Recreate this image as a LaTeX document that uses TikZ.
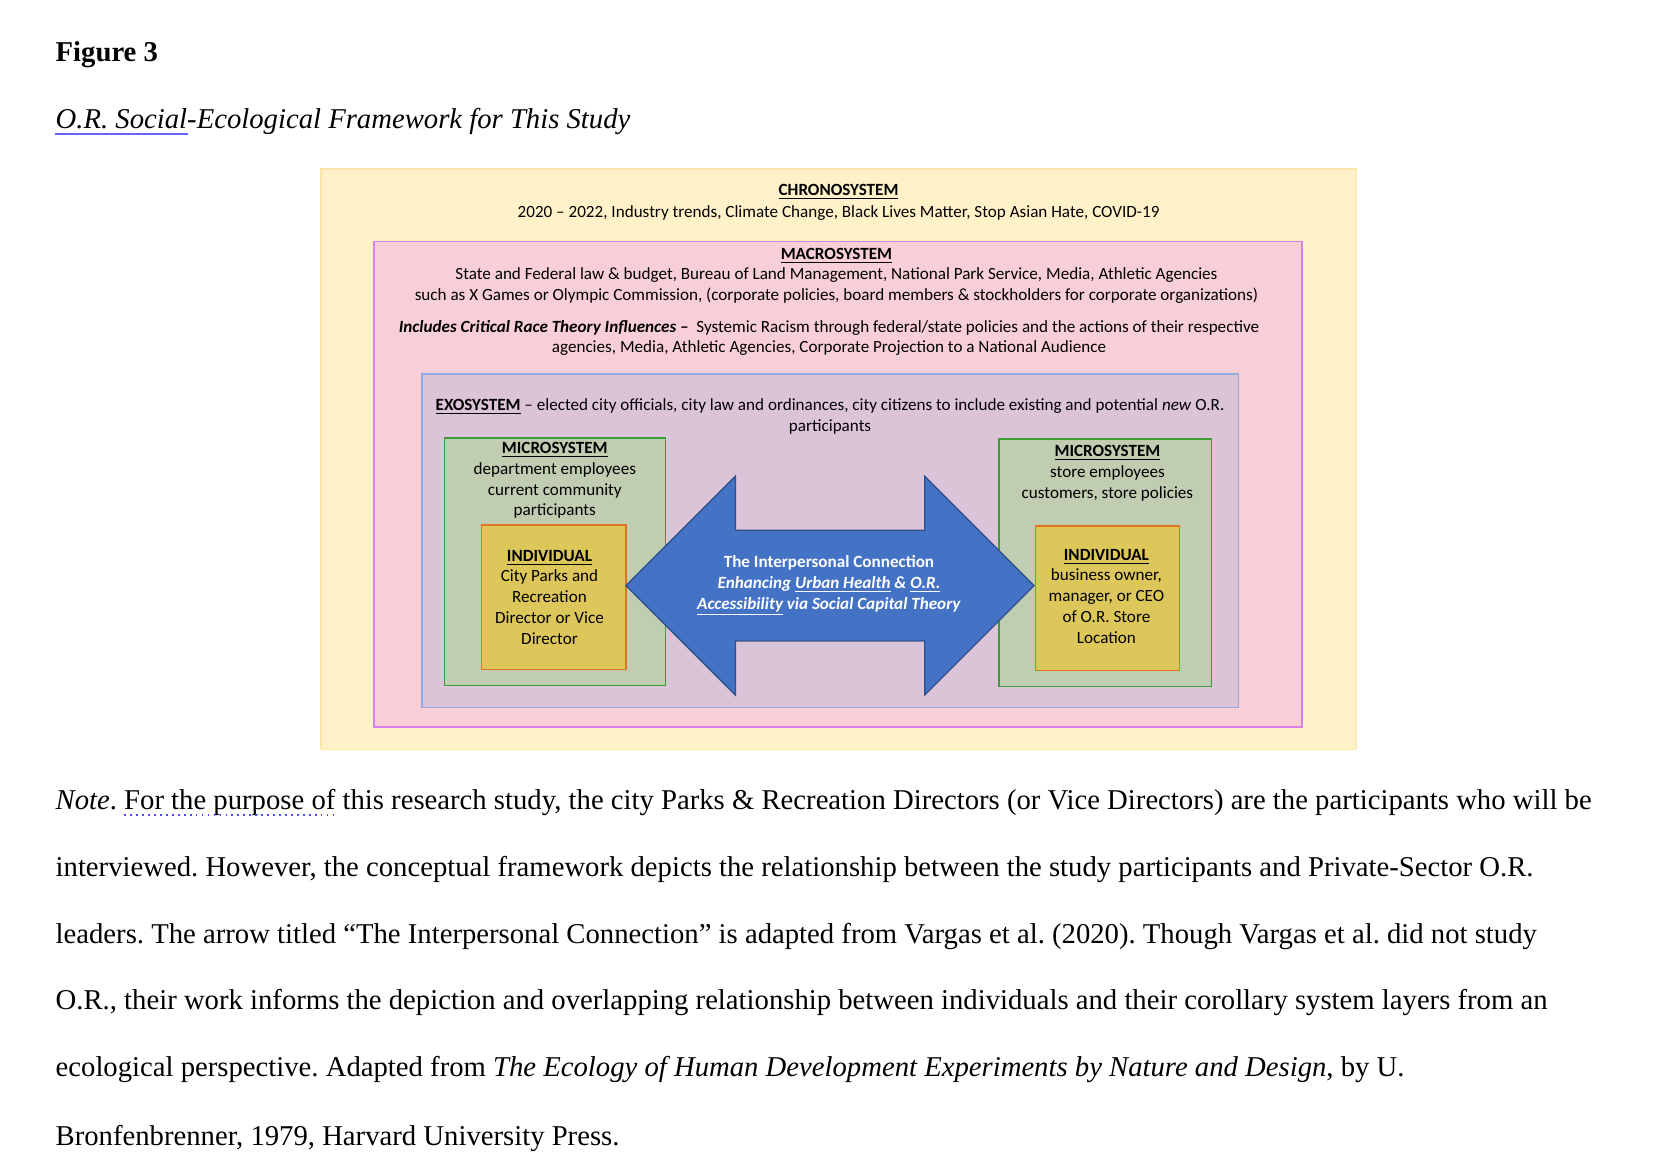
\documentclass[tikz,border=0pt]{standalone}
\usepackage{fontspec}
\setmainfont[Ligatures=TeX]{Liberation Serif}
\newfontfamily\carlitofont[Ligatures=TeX]{Carlito}
\usetikzlibrary{calc}
\definecolor{chrono}{HTML}{FFF2C8}
\definecolor{chronob}{HTML}{FBE6A8}
\definecolor{macro}{HTML}{F8CFD6}
\definecolor{macrob}{HTML}{D982E6}
\definecolor{exo}{HTML}{DCC4D8}
\definecolor{exob}{HTML}{8FAADC}
\definecolor{micro}{HTML}{C0CDB0}
\definecolor{microb}{HTML}{3E9B3A}
\definecolor{indiv}{HTML}{DDC75A}
\definecolor{indivb}{HTML}{E2731E}
\definecolor{arr}{HTML}{4472C4}
\definecolor{arrb}{HTML}{2F528F}
\frenchspacing
\begin{document}
\begin{tikzpicture}[x=0.5pt,y=-0.5pt,
  dt/.style={font=\carlitofont\fontsize{8.05}{9.8}\selectfont,align=center,inner sep=0pt},
  body/.style={font=\fontsize{13.5}{15}\selectfont,anchor=base west,inner sep=0pt}]
\useasboundingbox (0,0) rectangle (1560,1105);
\fill[white] (0,0) rectangle (1560,1105);
\node[body,font=\bfseries\fontsize{13.5}{15}\selectfont] (fig) at (52,58) {Figure 3};
\node[body] (title) at (52,121) {\textit{O.R. Social-Ecological Framework for This Study}};
\draw[blue!60,line width=0.6pt] (52,126) -- (177,126);
% boxes
\draw[fill=chrono,draw=chronob,line width=0.6pt] (302,159) rectangle (1276,705);
\draw[fill=macro,draw=macrob,line width=0.6pt] (352,227) rectangle (1225,684);
\draw[fill=exo,draw=exob,line width=0.6pt] (397,352) rectangle (1165,666);
\draw[fill=micro,draw=microb,line width=0.6pt] (418,412) rectangle (626,645);
\draw[fill=indiv,draw=indivb,line width=0.6pt] (453,494) rectangle (589,630);
\draw[fill=micro,draw=microb,line width=0.6pt] (940,413) rectangle (1140,646);
\draw[fill=indiv,draw=indivb,line width=0.6pt] (974,495) rectangle (1110,631);
\draw[fill=arr,draw=arrb,line width=0.6pt] (589,551) -- (692,448) -- (692,499) -- (870,499) -- (870,448) -- (973,551) -- (870,654) -- (870,603) -- (692,603) -- (692,654) -- cycle;
% texts
\node[dt] (ct) at (789,181) {\textbf{\underline{CHRONOSYSTEM}}};
\node[dt] (cl) at (789,200) {2020 – 2022, Industry trends, Climate Change, Black Lives Matter, Stop Asian Hate, COVID-19};
\node[dt] (mt) at (787,241) {\textbf{\underline{MACROSYSTEM}}};
\node[dt] (ml) at (787,269) {State and Federal law \& budget, Bureau of Land Management, National Park Service, Media, Athletic Agencies\\such as X Games or Olympic Commission, (corporate policies, board members \& stockholders for corporate organizations)};
\node[dt] (mc) at (780,318) {\textbf{\textit{Includes Critical Race Theory Influences –}}\ \ Systemic Racism through federal/state policies and the actions of their respective\\agencies, Media, Athletic Agencies, Corporate Projection to a National Audience};
\node[dt] (ex) at (781,392) {\textbf{\underline{EXOSYSTEM}} – elected city officials, city law and ordinances, city citizens to include existing and potential \textit{new} O.R.\\participants};
\node[dt] (mlt) at (522,452) {\textbf{\underline{MICROSYSTEM}}\\department employees\\current community\\participants};
\node[dt] (ilt) at (517,562) {\textbf{\underline{INDIVIDUAL}}\\City Parks and\\Recreation\\Director or Vice\\Director};
\node[dt] (mrt) at (1042,445) {\textbf{\underline{MICROSYSTEM}}\\store employees\\customers, store policies};
\node[dt] (irt) at (1041,561) {\textbf{\underline{INDIVIDUAL}}\\business owner,\\manager, or CEO\\of O.R. Store\\Location};
\node[dt,text=white] (at) at (780,551) {\textbf{The Interpersonal Connection}\\\textit{\textbf{Enhancing \underline{Urban Health} \& \underline{O.R.}}}\\\textit{\textbf{\underline{Accessibility} via Social Capital Theory}}};
% note
\node[body] (n1) at (52,762) {\textit{Note}. For the purpose of this research study, the city Parks \& Recreation Directors (or Vice Directors) are the participants who will be};
\draw[blue!70,dotted,line width=0.8pt] (117,767) -- (318,767);
\node[body] (n2) at (52,825) {interviewed. However, the conceptual framework depicts the relationship between the study participants and Private-Sector O.R.};
\node[body] (n3) at (52,888) {leaders. The arrow titled “The Interpersonal Connection” is adapted from Vargas et al. (2020). Though Vargas et al. did not study};
\node[body] (n4) at (52,950) {O.R., their work informs the depiction and overlapping relationship between individuals and their corollary system layers from an};
\node[body] (n5) at (52,1013) {ecological perspective. Adapted from \textit{The Ecology of Human Development Experiments by Nature and Design}, by U.};
\node[body] (n6) at (52,1078) {Bronfenbrenner, 1979, Harvard University Press.};
\end{tikzpicture}
\end{document}
